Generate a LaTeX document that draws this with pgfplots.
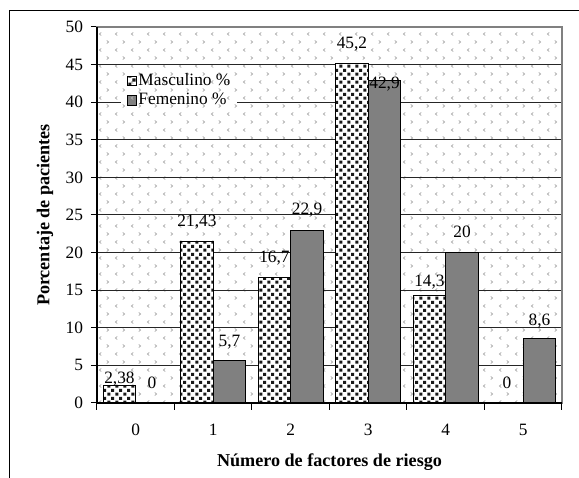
\documentclass[border=0pt]{standalone}
\usepackage{fontspec}
\setmainfont{Liberation Serif}
\usepackage{pgfplots}
\usepackage{pgfplotstable}
\pgfplotsset{compat=1.18}
\usetikzlibrary{patterns}
\definecolor{patgray}{RGB}{175,175,175}
\definecolor{dotgray}{RGB}{25,25,25}
\definecolor{femgray}{RGB}{128,128,128}
\newcommand\fsz{\fontsize{13}{15}\selectfont}
\newcommand\lsz{\fontsize{13.6}{16}\selectfont}

% chart background: small grey chevrons
\pgfdeclarepatternformonly{chev}{\pgfqpoint{-1pt}{-1pt}}{\pgfqpoint{13pt}{13pt}}{\pgfqpoint{12pt}{12pt}}{
  \pgfsetlinewidth{0.55pt}
  \pgfpathmoveto{\pgfqpoint{3.9pt}{10.2pt}}
  \pgfpathlineto{\pgfqpoint{2.6pt}{9pt}}
  \pgfpathlineto{\pgfqpoint{3.9pt}{7.8pt}}
  \pgfpathmoveto{\pgfqpoint{8.1pt}{4.2pt}}
  \pgfpathlineto{\pgfqpoint{9.4pt}{3pt}}
  \pgfpathlineto{\pgfqpoint{8.1pt}{1.8pt}}
  \pgfusepath{stroke}
}
% Masculino bars: dark square dots
\pgfdeclarepatternformonly{sqdots}{\pgfpointorigin}{\pgfqpoint{6.2pt}{6.2pt}}{\pgfqpoint{6.2pt}{6.2pt}}{
  \pgfpathrectangle{\pgfqpoint{0.3pt}{0.3pt}}{\pgfqpoint{2.5pt}{2.5pt}}
  \pgfpathrectangle{\pgfqpoint{3.4pt}{3.4pt}}{\pgfqpoint{2.5pt}{2.5pt}}
  \pgfusepath{fill}
}

\pgfplotstableread{
x  y     dy
0  2.38  1.5
1  21.43 11.25
2  16.7  11.25
3  45.2  11.25
4  14.3  6.75
5  0     10.5
}\masc
\pgfplotstableread{
x  y     dy
0  0     10.5
1  5.7   10.5
2  22.9  12
3  42.9  -6
4  20    11.25
5  8.6   9.75
}\fem

\begin{document}
\begin{tikzpicture}[font=\fsz]
\useasboundingbox (-72.75pt,-56.25pt) rectangle (361.5pt,302.25pt);
\draw[line width=0.75pt] (-65.25pt,-57pt) -- (-65.25pt,294pt) -- (362pt,294pt);
\begin{axis}[
  at={(0pt,0pt)}, anchor=south west,
  scale only axis, width=348.75pt, height=282pt,
  ybar, bar width=24.4pt,
  xmin=-0.5, xmax=5.5, ymin=0, ymax=50,
  xtick={0,...,5}, minor xtick={-0.5,0.5,...,5.5},
  ytick={0,5,...,50},
  xtick pos=lower, ytick pos=left, tick align=outside,
  major tick length=4.5pt, minor tick length=5pt,
  major x tick style={draw=none},
  tick style={black, line width=0.75pt},
  /pgf/number format/assume math mode=true,
  tick label style={font=\fsz},
  xticklabel style={yshift=-7.7pt},
  yticklabel style={xshift=-2.5pt},
  ymajorgrids, major grid style={black!85, line width=0.75pt},
  axis line style={draw=black!50, line width=0.9pt},
  axis background/.style={fill=white, postaction={pattern=chev, pattern color=patgray}},
  xlabel={\bfseries Número de factores de riesgo},
  ylabel={\bfseries Porcentaje de pacientes},
  xlabel style={at={(axis description cs:0.5,-0.157)}, anchor=center, font=\lsz},
  ylabel style={at={(axis description cs:-0.1118,0.5)}, anchor=center, font=\lsz},
  legend style={at={(axis description cs:0.052,0.896)}, anchor=north west,
    draw=none, fill=white, postaction={pattern=chev, pattern color=patgray},
    inner sep=4pt, font=\fsz, row sep=0pt,
    nodes={inner sep=1.2pt, text height=9pt, text depth=3pt}},
  legend cell align=left,
  legend image code/.code={\draw[#1] (0pt,-3.4pt) rectangle (6.8pt,3.4pt);},
  nodes near coords={\pgfmathprintnumber[use comma, precision=2]{\pgfplotspointmeta}},
  visualization depends on={\thisrow{dy} \as \labdy},
  nodes near coords style={anchor=base, yshift=\labdy pt, font=\fsz, inner sep=0pt},
  after end axis/.code={
    \draw[black, line width=0.9pt] (rel axis cs:0,1) -- (rel axis cs:0,0) -- (rel axis cs:1,0);
  },
]
\addplot[bar shift=-12.2pt, draw=black, line width=0.75pt, fill=white,
  postaction={pattern=sqdots, pattern color=dotgray}] table[x=x, y=y] {\masc};
\addplot[bar shift=12.2pt, draw=black, line width=0.75pt, fill=femgray] table[x=x, y=y] {\fem};
\legend{Masculino \%, Femenino \%}
\end{axis}
\end{tikzpicture}
\end{document}
